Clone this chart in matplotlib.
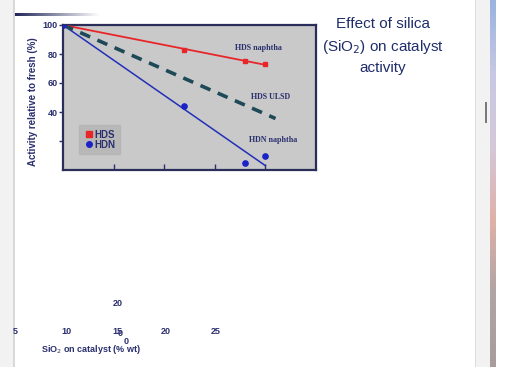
import matplotlib.pyplot as plt
import numpy as np
from matplotlib.lines import Line2D
from matplotlib.patches import Rectangle

W, H = 521, 367
NAVY = "#2a2f6e"

# data
hds_x = [0, 12, 18, 20]
hds_y = [100, 82.5, 75.5, 73]
hds_fit_x = [0, 20]
hds_fit_y = [100, 72.5]

hdn_x = [0, 12, 18, 20]
hdn_y = [100, 44, 4.5, 9.5]
hdn_fit_x = [0, 20]
hdn_fit_y = [100, 3]

ulsd_x = [0, 21]
ulsd_y = [100, 35.5]

yticks = [20, 40, 60, 80, 100]
ytick_labels = ["", "40", "60", "80", "100"]
xticks = [5, 10, 15, 20]
stray_labels = ["5", "10", "15", "20", "25"]

fig = plt.figure(figsize=(W / 100, H / 100), dpi=100)
fig.patch.set_facecolor("white")

def px(x0, y0, x1, y1):
    return [x0 / W, 1 - y1 / H, (x1 - x0) / W, (y1 - y0) / H]

# slide decorations
deco = fig.add_axes([0, 0, 1, 1])
deco.set_xlim(0, W)
deco.set_ylim(H, 0)
deco.axis("off")
deco.add_patch(Rectangle((0, 0), 13, H, color="#f2f2f2", lw=0))
deco.add_patch(Rectangle((13, 0), 1.5, H, color="#d8d8d8", lw=0))
grad = np.linspace(0, 1, 100)[None, :]
deco.imshow(grad, cmap=plt.matplotlib.colors.LinearSegmentedColormap.from_list("g", ["#23285a", "#ffffff"]),
            extent=(15, 100, 16.5, 13.5), aspect="auto")
deco.add_patch(Rectangle((475, 0), 15, H, color="#f2f2f2", lw=0))
deco.add_patch(Rectangle((474.5, 0), 1, H, color="#dcdcdc", lw=0))
deco.add_patch(Rectangle((484.5, 102), 2.5, 21, color="#7a7a7a", lw=0))
strip = np.linspace(0, 1, 100)[:, None]
deco.imshow(strip, cmap=plt.matplotlib.colors.LinearSegmentedColormap.from_list(
    "s", ["#9ab4e0", "#c8c8e4", "#d4c8d8", "#e0b0a8", "#b0a4a4", "#a89c9c"]),
    extent=(490, 496, H, 0), aspect="auto")
deco.set_xlim(0, W)
deco.set_ylim(H, 0)

ax = fig.add_axes(px(63, 25, 316, 170))
ax.set_facecolor("#c9c9c9")
ax.set_xlim(0, 25)
ax.set_ylim(0, 100)

ax.plot(hds_fit_x, hds_fit_y, color="#e8262a", lw=1.3, zorder=3)
ax.plot(hds_x, hds_y, "s", color="#e8262a", ms=3.3, zorder=4)
ax.plot(hdn_fit_x, hdn_fit_y, color="#2230b8", lw=1.1, zorder=3)
ax.plot(hdn_x, hdn_y, "o", color="#1a22c8", ms=3.8, zorder=4)
ax.plot(ulsd_x, ulsd_y, color="#1e4a57", lw=2.6, dashes=(3, 2.2), zorder=3)

for s in ax.spines.values():
    s.set_color("#2b2d5a")
    s.set_linewidth(1.6)

ax.set_yticks(yticks)
ax.set_yticklabels(ytick_labels, fontsize=6.5, fontweight="bold", color=NAVY, family="Liberation Sans")
ax.tick_params(axis="y", direction="out", length=3, width=1, color=NAVY, pad=1)
ax.set_xticks(xticks)
ax.set_xticklabels([])
ax.tick_params(axis="x", direction="in", length=4, width=1, color=NAVY)
ax.set_ylabel("Activity relative to fresh (%)", fontsize=7, fontweight="bold",
              color=NAVY, family="Liberation Sans")
ax.yaxis.set_label_coords(-0.10, 0.47)

serif = dict(family="Liberation Serif", fontweight="bold", color=NAVY, fontsize=5.8)
ax.text(17, 83, "HDS naphtha", **serif)
ax.text(18.6, 49, "HDS ULSD", **serif)
ax.text(18.4, 19.5, "HDN naphtha", **serif)

handles = [Line2D([], [], ls="", marker="s", color="#e8262a", ms=4),
           Line2D([], [], ls="", marker="o", color="#1a22c8", ms=4)]
leg = ax.legend(handles, ["HDS", "HDN"], loc="lower left", bbox_to_anchor=(0.065, 0.11),
                frameon=True, fancybox=False, handletextpad=0.1, handlelength=1.0,
                borderpad=0.45, borderaxespad=0, labelspacing=0.0,
                prop=dict(family="Liberation Sans", weight="bold", size=7))
leg.get_frame().set_facecolor("#b4b4b4")
leg.get_frame().set_edgecolor("#b4b4b4")
for t in leg.get_texts():
    t.set_color(NAVY)

# title on the right
fig.text(383 / W, 1 - 46 / H, "Effect of silica\n(SiO$_2$) on catalyst\nactivity",
         ha="center", va="center", fontsize=11, color="#1f2d6b",
         family="Liberation Sans", linespacing=1.5, math_fontfamily="dejavusans")

# displaced axis labels below the chart
lab = dict(fontsize=6.5, fontweight="bold", color=NAVY, family="Liberation Sans",
           ha="center", va="center")
for xpos, t in zip([15, 66, 117, 166, 216], stray_labels):
    fig.text(xpos / W, 1 - 331 / H, t, **lab)
fig.text(118 / W, 1 - 304 / H, "20", **lab)
fig.text(120 / W, 1 - 334 / H, "0", **lab)
fig.text(126 / W, 1 - 341 / H, "0", **lab)
fig.text(91 / W, 1 - 349 / H, "SiO$_2$ on catalyst (% wt)", **lab)

fig.savefig("out.png", dpi=100, facecolor="white")
